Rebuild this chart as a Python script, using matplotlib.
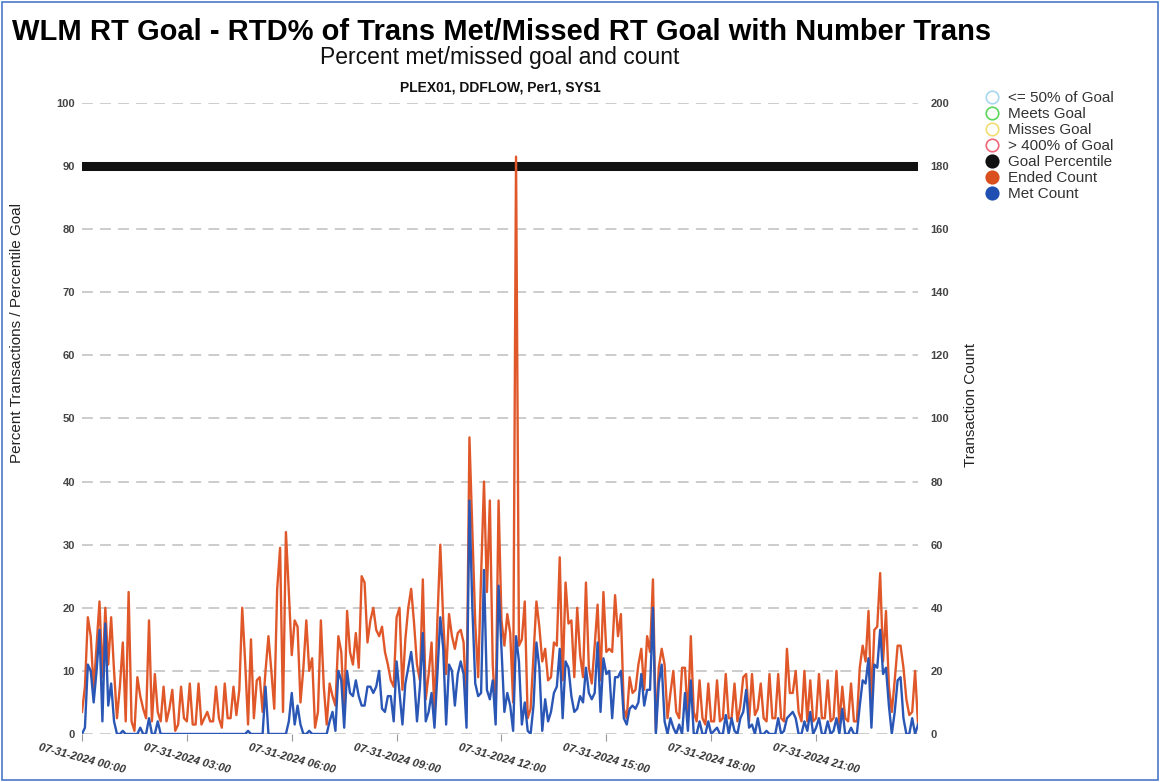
import numpy as np
import matplotlib
matplotlib.use('Agg')
import matplotlib.pyplot as plt
import matplotlib.dates as mdates
import pandas as pd
from matplotlib.lines import Line2D
from matplotlib.patches import Rectangle

plt.rcParams['font.family'] = ['Liberation Sans', 'DejaVu Sans']

# transaction counts, 5 minute intervals on 07-31-2024
ended = [7, 15, 37, 31, 14, 28, 42, 18, 40, 22, 37, 20, 5, 15, 29, 4, 45, 4, 1, 18,
         12, 8, 5, 36, 4, 19, 7, 4, 15, 4, 8, 14, 1, 3, 15, 5, 4, 16, 3, 3,
         16, 3, 5, 7, 4, 4, 15, 5, 2, 16, 5, 5, 15, 6, 14, 40, 23, 3,
         30, 5, 17, 18, 7, 20, 31, 20, 8, 46, 59, 7, 64, 45, 25, 36, 34, 10, 21, 36,
         20, 24, 2, 7, 36, 15, 3, 16, 12, 9, 31, 26, 7, 39, 26, 22, 32, 21, 50, 48,
         29, 36, 40, 33, 31, 34, 26, 22, 17, 15, 37, 40, 14, 30, 40, 46, 35,
         22, 17, 49, 11, 19, 29, 7, 36, 60, 36, 19, 38, 31, 27, 32, 33, 29, 7, 94, 65,
         35, 18, 50, 80, 45, 74, 22, 6, 74, 36, 28, 38, 32, 10, 183, 28, 30, 42, 5, 8,
         25, 42, 34, 23, 27, 17, 18, 29, 28, 56, 17, 48, 35, 36, 18, 40, 25, 18,
         48, 21, 16, 28, 41, 17, 45, 26, 27, 26, 44, 31, 38, 8, 5, 18, 13, 14, 22, 27,
         14, 31, 26, 49, 1, 21, 27, 22, 5, 13, 20, 7, 5, 21, 21, 5, 31, 7, 4, 17,
         5, 3, 16, 4, 4, 17, 4, 5, 19, 5, 5, 16, 4, 9, 18, 19, 4,
         19, 6, 8, 16, 5, 4, 19, 5, 5, 19, 5, 4, 27, 13, 13, 20, 7, 4, 20, 4,
         17, 4, 5, 19, 5, 5, 17, 4, 5, 20, 3, 15, 5, 4, 16, 4, 4, 21, 28, 23,
         39, 10, 33, 34, 51, 23, 39, 15, 7, 17, 28, 28, 21, 11, 6, 7, 20, 3]

met = [0, 2, 22, 20, 10, 20, 33, 4, 35, 9, 16, 4, 0, 0, 1, 0, 0, 0, 0, 0,
       2, 0, 0, 5, 0, 0, 4, 0, 0, 0, 0, 0, 0, 0, 0, 0, 0, 0, 0, 0,
       0, 0, 0, 0, 0, 0, 0, 0, 0, 0, 0, 0, 0, 0, 0, 0, 0, 1,
       0, 0, 0, 0, 0, 15, 0, 0, 0, 0, 0, 0, 0, 4, 13, 3, 9, 3, 0, 0,
       1, 0, 0, 0, 0, 0, 0, 4, 7, 1, 20, 17, 2, 20, 13, 12, 17, 12, 9, 9,
       15, 15, 13, 15, 20, 8, 7, 12, 12, 4, 23, 13, 3, 16, 21, 26, 18,
       4, 15, 32, 4, 7, 13, 2, 19, 37, 27, 3, 22, 20, 9, 19, 23, 19, 2, 74, 40,
       16, 12, 13, 52, 14, 11, 17, 3, 47, 27, 7, 13, 9, 1, 31, 23, 3, 10, 1, 0,
       9, 29, 21, 1, 11, 4, 7, 13, 15, 27, 5, 23, 21, 12, 7, 8, 12, 10,
       21, 13, 11, 13, 29, 7, 24, 19, 20, 5, 18, 18, 20, 5, 3, 8, 9, 8, 10, 19,
       9, 14, 14, 40, 0, 16, 22, 4, 0, 5, 2, 0, 3, 0, 13, 1, 17, 0, 0, 4,
       0, 0, 4, 0, 1, 2, 0, 0, 6, 0, 5, 1, 0, 5, 7, 14, 2,
       3, 0, 5, 0, 0, 1, 0, 0, 0, 5, 0, 1, 5, 6, 7, 5, 0, 0, 4, 1,
       7, 0, 2, 5, 0, 0, 4, 0, 1, 5, 0, 8, 0, 0, 2, 0, 0, 9, 17, 16,
       24, 2, 22, 21, 33, 19, 21, 9, 0, 7, 17, 18, 5, 0, 0, 5, 0, 3]

goal_pct = 90
times = pd.date_range('2024-07-31 00:00', periods=len(ended), freq='5min')

fig = plt.figure(figsize=(11.6, 7.82), dpi=100)
ax = fig.add_axes([0.0707, 0.0614, 0.7207, 0.8069])
ax2 = ax.twinx()

ax.set_ylim(0, 100)
ax2.set_ylim(0, 200)
ax.set_xlim(times[0], times[-1])
ax.set_yticks(np.arange(0, 101, 10))
ax2.set_yticks(np.arange(0, 201, 20))
ax.grid(axis='y', color='#c8c8c8', linestyle=(0, (6, 4)), linewidth=1.3)
ax.set_axisbelow(True)

ax.axhline(goal_pct, color='#111111', linewidth=6.5, zorder=3)
ax2.plot(times, ended, color='#e0582a', linewidth=1.7, zorder=2)
ax2.plot(times, met, color='#2a56b5', linewidth=1.7, zorder=3)

for a in (ax, ax2):
    for s in a.spines.values():
        s.set_visible(False)
ax.tick_params(axis='y', length=0, pad=5, labelsize=8, labelcolor='#444444')
ax2.tick_params(axis='y', length=0, pad=9, labelsize=8, labelcolor='#444444')
for lab in ax.get_yticklabels() + ax2.get_yticklabels():
    lab.set_fontweight('bold')

ax.xaxis.set_major_locator(mdates.HourLocator(byhour=range(0, 24, 3)))
ax.xaxis.set_major_formatter(mdates.DateFormatter('%m-%d-%Y %H:%M'))
ax.tick_params(axis='x', length=5, color='#999999', pad=1, labelsize=8, labelcolor='#333333')
for lab in ax.get_xticklabels():
    lab.set_rotation(-15)
    lab.set_ha('center')
    lab.set_fontstyle('italic')
    lab.set_fontweight('bold')

fig.text(0.0105, 0.959, 'WLM RT Goal - RTD% of Trans Met/Missed RT Goal with Number Trans',
         fontsize=21, fontweight='bold', va='center', ha='left', color='#000000')
fig.text(0.431, 0.926, 'Percent met/missed goal and count', fontsize=16.5, ha='center',
         va='center', color='#111111')
fig.text(0.431, 0.888, 'PLEX01, DDFLOW, Per1, SYS1', fontsize=10, fontweight='bold',
         ha='center', va='center', color='#111111')
fig.text(0.0147, 1 - 333 / 782, 'Percent Transactions / Percentile Goal', rotation=90,
         fontsize=11, ha='center', va='center', color='#222222')
fig.text(0.837, 1 - 405 / 782, 'Transaction Count', rotation=90,
         fontsize=11, ha='center', va='center', color='#222222')

legend_labels = ['<= 50% of Goal', 'Meets Goal', 'Misses Goal', '> 400% of Goal',
                 'Goal Percentile', 'Ended Count', 'Met Count']
legend_colors = ['#a8d8f0', '#5cd65c', '#f2dd72', '#ee6677', '#111111', '#d9501e', '#1f4fb0']
legend_filled = [False, False, False, False, True, True, True]
handles = []
for lab, col, filled in zip(legend_labels, legend_colors, legend_filled):
    handles.append(Line2D([], [], linestyle='none', marker='o', markersize=9,
                          markerfacecolor=col if filled else 'none',
                          markeredgecolor=col, markeredgewidth=1.2, label=lab))
fig.legend(handles=handles, loc='upper left', bbox_to_anchor=(0.843, 0.891),
           frameon=False, fontsize=11, handletextpad=0.55, labelspacing=0.13,
           handlelength=1.0, borderaxespad=0, labelcolor='#333333')

fig.patches.append(Rectangle((0.002, 0.002), 0.996, 0.995, transform=fig.transFigure,
                             fill=False, edgecolor='#4a78cc', linewidth=1.2))

fig.savefig('out.png', dpi=100)
